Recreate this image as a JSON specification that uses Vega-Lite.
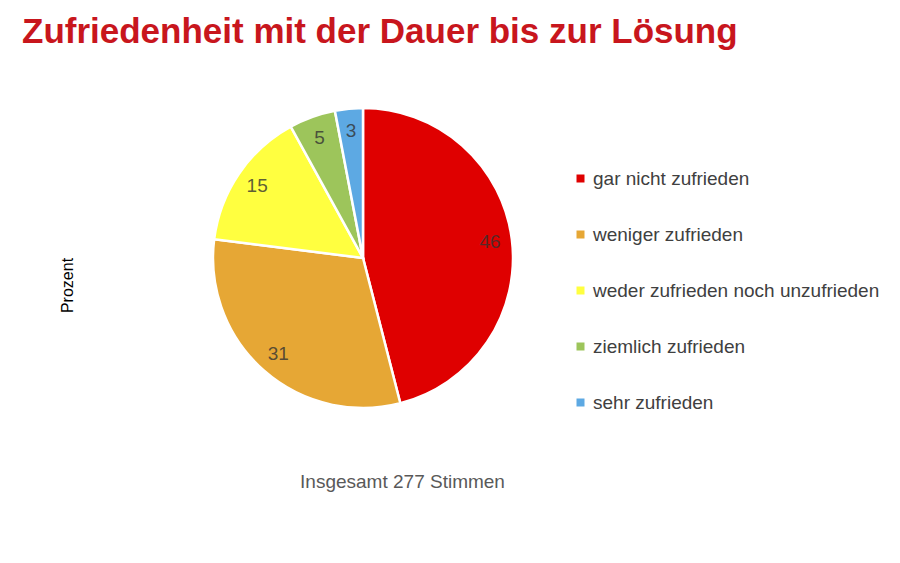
{
  "$schema": "https://vega.github.io/schema/vega-lite/v6.json",
  "width": 560,
  "height": 400,
  "autosize": "none",
  "padding": {"left": 83, "top": 58, "right": 257, "bottom": 105},
  "background": "white",
  "title": {
    "text": "Zufriedenheit mit der Dauer bis zur Lösung",
    "anchor": "start",
    "frame": "group",
    "font": "Liberation Sans",
    "fontSize": 35,
    "fontWeight": "bold",
    "color": "#C8161D",
    "dx": -61,
    "dy": 34,
    "baseline": "alphabetic",
    "offset": 14
  },
  "data": {
    "values": [
      {"kategorie": "gar nicht zufrieden", "prozent": 46, "ord": 1},
      {"kategorie": "weniger zufrieden", "prozent": 31, "ord": 2},
      {"kategorie": "weder zufrieden noch unzufrieden", "prozent": 15, "ord": 3},
      {"kategorie": "ziemlich zufrieden", "prozent": 5, "ord": 4},
      {"kategorie": "sehr zufrieden", "prozent": 3, "ord": 5}
    ]
  },
  "layer": [
    {
      "mark": {"type": "point", "opacity": 0},
      "encoding": {
        "x": {
          "field": "prozent",
          "type": "quantitative",
          "title": "Insgesamt 277 Stimmen",
          "axis": {
            "labels": false, "ticks": false, "domain": false, "grid": false,
            "titleFont": "Liberation Sans", "titleFontSize": 19, "titleFontWeight": "normal",
            "titleColor": "#595959", "titleX": 319, "titlePadding": 14
          }
        },
        "y": {
          "field": "prozent",
          "type": "quantitative",
          "title": "Prozent",
          "axis": {
            "labels": false, "ticks": false, "domain": false, "grid": false,
            "titleFont": "Liberation Sans", "titleFontSize": 16, "titleFontWeight": "normal",
            "titleColor": "#000000", "titleY": 227, "titlePadding": 8
          }
        }
      }
    },
    {
      "mark": {"type": "arc", "outerRadius": 150, "stroke": "white", "strokeWidth": 2.5},
      "encoding": {
        "theta": {"field": "prozent", "type": "quantitative", "stack": true},
        "order": {"field": "ord", "type": "quantitative"},
        "color": {
          "field": "kategorie",
          "type": "nominal",
          "title": null,
          "scale": {
            "domain": ["gar nicht zufrieden", "weniger zufrieden", "weder zufrieden noch unzufrieden", "ziemlich zufrieden", "sehr zufrieden"],
            "range": ["#DF0000", "#E6A735", "#FFFF40", "#9DC55B", "#5DA9E3"]
          },
          "legend": {
            "orient": "none",
            "legendX": 488,
            "legendY": 111,
            "symbolType": "square",
            "symbolSize": 64,
            "symbolStrokeWidth": 0,
            "labelFont": "Liberation Sans",
            "labelFontSize": 19,
            "labelColor": "#404040",
            "labelOffset": 3,
            "labelLimit": 400,
            "rowPadding": 36
          }
        }
      }
    },
    {
      "mark": {"type": "text", "radius": 128, "font": "Liberation Sans", "fontSize": 19, "fill": "#333333", "fillOpacity": 0.8},
      "encoding": {
        "theta": {"field": "prozent", "type": "quantitative", "stack": true},
        "order": {"field": "ord", "type": "quantitative"},
        "text": {"field": "prozent", "type": "quantitative"}
      }
    }
  ],
  "config": {
    "view": {"stroke": null}
  }
}
